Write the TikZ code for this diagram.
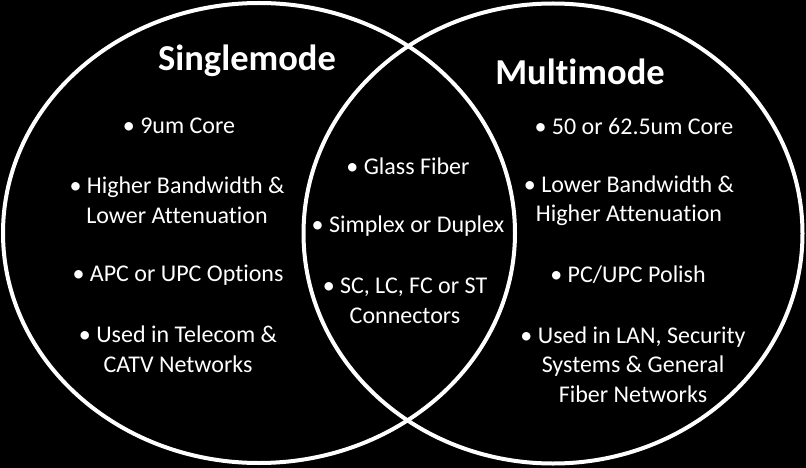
\documentclass[tikz,border=0pt]{standalone}
\usepackage{fontspec}
\setmainfont{Carlito}[Ligatures=NoCommon]
\begin{document}
\begin{tikzpicture}[x=1pt,y=-1pt,
  ring/.style={draw=white, line width=4pt},
  title/.style={text=white, font=\fontsize{36.5}{42}\selectfont\bfseries, inner sep=0pt},
  item/.style={text=white, font=\fontsize{24}{29.5}\selectfont, align=center, inner sep=0pt}]
\fill[black] (0,0) rectangle (806,468);
\useasboundingbox (0,0) rectangle (806,468);
\draw[ring] (259,233) ellipse [x radius=256pt, y radius=230pt];
\draw[ring] (553,233.5) ellipse [x radius=249.5pt, y radius=230pt];
% titles
\node[title] (sm) at (247,61) {Singlemode};
\node[title] (mm) at (580,72) {Multimode};
% left
\node[item] (l1) at (179,126) {• 9um Core};
\node[item] (l2) at (177,200.5) {• Higher Bandwidth \&\\Lower Attenuation};
\node[item] (l3) at (178,275) {• APC or UPC Options};
\node[item] (l4) at (178,349.5) {• Used in Telecom \&\\CATV Networks};
% middle
\node[item] (c1) at (408,166) {• Glass Fiber};
\node[item] (c2) at (408,226) {• Simplex or Duplex};
\node[item] (c3) at (405,301) {• SC, LC, FC or ST\\Connectors};
% right
\node[item] (r1) at (634,126) {• 50 or 62.5um Core};
\node[item] (r2) at (629,200.5) {• Lower Bandwidth \&\\Higher Attenuation};
\node[item] (r3) at (628,275) {• PC/UPC Polish};
\node[item] (r4) at (633,364.5) {• Used in LAN, Security\\Systems \& General\\Fiber Networks};
\end{tikzpicture}
\end{document}
